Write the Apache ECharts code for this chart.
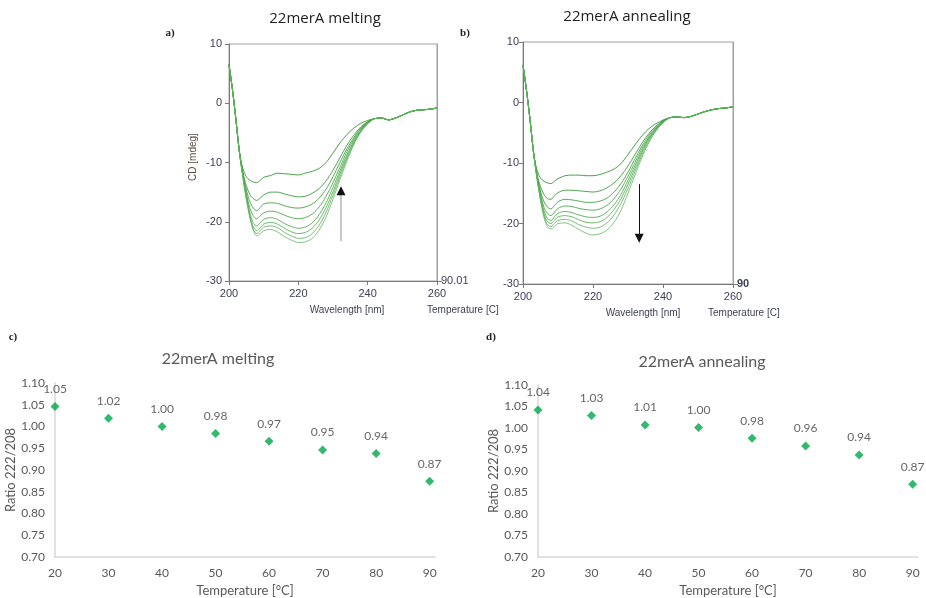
<!DOCTYPE html>
<html><head><meta charset="utf-8">
<script src="https://cdn.jsdelivr.net/npm/echarts@6/dist/echarts.min.js"></script>
<style>html,body{margin:0;padding:0;background:#fff}#c{width:926px;height:598px}</style>
</head><body><div id="c"></div><script>
// ---- wavelengths (nm) ----
const headWl = [200, 201, 202, 203];
const midWl = [204, 205, 206, 207, 208, 209, 210, 212, 214, 216, 218, 220, 222, 224, 226, 228, 230, 232, 234, 236, 238, 240];
const tailWl = [242, 244, 246, 248, 250, 252, 254, 256, 258, 260];

// ---- panel a: melting spectra (CD, mdeg) ----
const meltHead = [6.5, 2.3, -2.8, -8.2];
const meltTail = [-2.6, -2.5, -2.8, -2.5, -2.0, -1.5, -1.2, -1.1, -1.0, -0.8];
const melt1 = [-11.0, -12.4, -13.0, -13.3, -13.4, -13.0, -12.5, -12.2, -11.8, -11.9, -12.0, -12.1, -11.8, -11.5, -11.0, -10.0, -8.4, -6.7, -5.3, -4.2, -3.4, -2.9];
const melt2 = [-11.6, -13.9, -15.4, -16.1, -16.4, -16.0, -15.5, -15.0, -15.0, -15.3, -15.6, -15.8, -15.7, -15.2, -14.4, -13.1, -11.3, -9.2, -7.1, -5.4, -4.0, -3.1];
const melt3 = [-11.9, -14.6, -16.6, -17.7, -18.1, -17.6, -17.0, -16.8, -16.9, -17.3, -17.6, -17.7, -17.5, -17.0, -16.0, -14.5, -12.4, -10.0, -7.7, -5.8, -4.2, -3.2];
const melt4 = [-12.1, -15.2, -17.6, -19.0, -19.5, -19.0, -18.5, -18.2, -18.4, -18.9, -19.3, -19.5, -19.3, -18.7, -17.5, -15.7, -13.4, -10.8, -8.2, -6.1, -4.4, -3.3];
const melt5 = [-12.2, -15.6, -18.4, -20.2, -20.7, -20.2, -19.6, -19.3, -19.6, -20.3, -20.8, -21.1, -20.9, -20.2, -18.8, -16.8, -14.2, -11.4, -8.7, -6.4, -4.6, -3.3];
const melt6 = [-12.3, -15.9, -18.9, -20.9, -21.5, -21.0, -20.4, -20.1, -20.4, -21.1, -21.7, -22.0, -21.8, -21.1, -19.7, -17.6, -14.9, -11.9, -9.1, -6.6, -4.7, -3.4];
const melt7 = [-12.4, -16.1, -19.1, -21.3, -22.0, -21.5, -20.9, -20.7, -21.0, -21.8, -22.4, -22.8, -22.7, -22.0, -20.6, -18.4, -15.5, -12.4, -9.4, -6.8, -4.8, -3.4];
const melt8 = [-12.5, -16.2, -19.2, -21.4, -22.4, -22.0, -21.5, -21.3, -21.7, -22.5, -23.1, -23.5, -23.4, -22.8, -21.4, -19.2, -16.2, -12.9, -9.8, -7.0, -4.9, -3.5];

// ---- panel b: annealing spectra (CD, mdeg) ----
const annHead = [6.2, 2.0, -2.8, -8.2];
const annTail = [-2.5, -2.4, -2.5, -2.3, -1.9, -1.5, -1.2, -1.0, -0.9, -0.7];
const ann1 = [-11.2, -12.5, -13.0, -13.3, -13.4, -13.0, -12.6, -12.1, -12.0, -12.0, -12.1, -12.1, -11.9, -11.5, -11.0, -10.1, -8.6, -7.0, -5.5, -4.3, -3.5, -2.9];
const ann2 = [-11.8, -13.9, -15.2, -15.9, -16.0, -15.4, -14.9, -14.5, -14.5, -14.6, -14.7, -14.8, -14.6, -14.1, -13.3, -12.1, -10.5, -8.6, -6.7, -5.1, -3.9, -3.0];
const ann3 = [-12.0, -14.6, -16.4, -17.3, -17.6, -17.0, -16.4, -16.0, -16.1, -16.3, -16.5, -16.5, -16.3, -15.8, -14.8, -13.4, -11.5, -9.3, -7.2, -5.4, -4.1, -3.1];
const ann4 = [-12.2, -15.1, -17.3, -18.4, -18.7, -18.1, -17.5, -17.1, -17.2, -17.5, -17.7, -17.8, -17.6, -17.0, -15.9, -14.3, -12.2, -9.9, -7.6, -5.7, -4.2, -3.1];
const ann5 = [-12.3, -15.5, -17.9, -19.2, -19.5, -18.9, -18.3, -18.0, -18.2, -18.6, -18.9, -19.0, -18.8, -18.1, -16.9, -15.2, -12.9, -10.4, -8.0, -5.9, -4.4, -3.2];
const ann6 = [-12.4, -15.8, -18.4, -19.7, -20.0, -19.5, -18.9, -18.7, -18.9, -19.4, -19.8, -19.9, -19.7, -19.0, -17.7, -15.9, -13.5, -10.9, -8.3, -6.1, -4.5, -3.3];
const ann7 = [-12.5, -16.0, -18.7, -20.2, -20.5, -20.0, -19.5, -19.3, -19.6, -20.2, -20.6, -20.8, -20.6, -19.9, -18.6, -16.7, -14.2, -11.4, -8.7, -6.4, -4.6, -3.3];
const ann8 = [-12.6, -16.2, -19.0, -20.6, -20.9, -20.5, -20.0, -19.9, -20.3, -21.0, -21.6, -21.9, -21.7, -21.1, -19.8, -17.8, -15.0, -12.0, -9.1, -6.6, -4.7, -3.4];

// ---- arrows (wavelength, from CD, to CD) ----
const arrowMelt = [232.3, -23.3, -14.0];
const arrowAnneal = [233.2, -13.5, -23.2];

// ---- panels c, d: ratio 222/208 vs temperature ----
const tempC = [20, 30, 40, 50, 60, 70, 80, 90];
const ratioMelt = [1.046, 1.019, 1.000, 0.984, 0.966, 0.946, 0.938, 0.874];
const ratioAnneal = [1.042, 1.029, 1.007, 1.001, 0.976, 0.958, 0.937, 0.869];

// ---- right-axis (temperature) labels ----
const tempAxisLabelA = '90.01';
const tempAxisLabelB = '90';

const wl = headWl.concat(midWl, tailWl);
function spectrum(head, mid, tail) {
  const v = head.concat(mid, tail);
  return wl.map((w, i) => [w, v[i]]);
}
const greens = ['#1f8a1f', '#289028', '#319731', '#3a9e3a', '#44a444', '#4eaa4e', '#58b058', '#62b662'];
const meltSets = [melt1, melt2, melt3, melt4, melt5, melt6, melt7, melt8];
const annSets = [ann1, ann2, ann3, ann4, ann5, ann6, ann7, ann8];

const axisCol = '#7a7a7a';
const tickTxt = '#3d3d55';
const sansCD = 'Liberation Sans';

function cdX(gi) {
  return {
    gridIndex: gi, type: 'value', min: 200, max: 260, interval: 20,
    axisLine: { show: true, onZero: false, lineStyle: { color: axisCol } },
    axisTick: { show: true, length: 4, lineStyle: { color: axisCol } },
    axisLabel: { color: tickTxt, fontFamily: sansCD, fontSize: 11, margin: 7 },
    splitLine: { show: false }
  };
}
function cdY(gi, margin) {
  return {
    gridIndex: gi, type: 'value', min: -30, max: 10, interval: 10,
    axisLine: { show: true, onZero: false, lineStyle: { color: axisCol } },
    axisTick: { show: true, length: 4, lineStyle: { color: axisCol } },
    axisLabel: { color: tickTxt, fontFamily: sansCD, fontSize: 11, margin: margin },
    splitLine: { show: false }
  };
}
function tempY(gi, lab) {
  return {
    gridIndex: gi, type: 'value', position: 'right', min: 0, max: 1, interval: 1,
    axisLine: { show: true, onZero: false, lineStyle: { color: '#a0a0a0' } },
    axisTick: { show: true, length: 5, customValues: [0], lineStyle: { color: axisCol } },
    axisLabel: { color: tickTxt, fontFamily: sansCD, fontSize: 11, fontWeight: lab === '90' ? 'bold' : 'normal', margin: 4,
      formatter: v => (v === 0 ? lab : '') },
    splitLine: { show: false }
  };
}
function ratioX(gi) {
  return {
    gridIndex: gi, type: 'value', min: 20, max: 91, interval: 10,
    axisLine: { show: true, onZero: false, lineStyle: { color: '#d9d9d9', width: 1.5 } },
    axisTick: { show: false },
    axisLabel: { showMaxLabel: false, color: '#595959', fontFamily: 'Lato', fontSize: 12, margin: 10 },
    splitLine: { show: false },
    name: 'Temperature [°C]', nameLocation: 'middle', nameGap: 27,
    nameTextStyle: { color: '#595959', fontFamily: 'Lato', fontSize: 13 }
  };
}
function ratioY(gi) {
  return {
    gridIndex: gi, type: 'value', min: 0.7, max: 1.1, interval: 0.05,
    axisLine: { show: true, onZero: false, lineStyle: { color: '#d9d9d9', width: 1.5 } },
    axisTick: { show: false },
    axisLabel: { color: '#595959', fontFamily: 'Lato', fontSize: 12, margin: 10, formatter: v => v.toFixed(2) },
    splitLine: { show: false },
    name: 'Ratio 222/208', nameLocation: 'middle', nameGap: 35, nameRotate: 90,
    nameTextStyle: { color: '#595959', fontFamily: 'Lato', fontSize: 13 }
  };
}

const series = [];
meltSets.forEach((m, i) => {
  const s = {
    type: 'line', xAxisIndex: 0, yAxisIndex: 0, data: spectrum(meltHead, m, meltTail),
    showSymbol: false, smooth: 0.3, silent: true,
    lineStyle: { color: greens[i], width: 1, opacity: 0.8 }
  };
  if (i === 0) {
    s.markLine = { silent: true, symbol: ['none', 'none'], label: { show: false }, animation: false,
      lineStyle: { color: '#b4b4b4', width: 1.5, type: 'solid' },
      data: [[{ coord: [arrowMelt[0], arrowMelt[1]] }, { coord: [arrowMelt[0], arrowMelt[2] - 1.0] }]] };
  }
  if (i === 1) {
    s.markLine = { silent: true, symbol: ['none', 'triangle'], symbolSize: 9, label: { show: false }, animation: false,
      lineStyle: { color: '#111', width: 1, type: 'solid' },
      data: [[{ coord: [arrowMelt[0], arrowMelt[2] - 1.4] }, { coord: [arrowMelt[0], arrowMelt[2] - 0.75] }]] };
  }
  series.push(s);
});
annSets.forEach((m, i) => {
  const s = {
    type: 'line', xAxisIndex: 1, yAxisIndex: 2, data: spectrum(annHead, m, annTail),
    showSymbol: false, smooth: 0.3, silent: true,
    lineStyle: { color: greens[i], width: 1, opacity: 0.8 }
  };
  if (i === 0) {
    s.markLine = { silent: true, symbol: ['none', 'triangle'], symbolSize: 9, label: { show: false }, animation: false,
      lineStyle: { color: '#111', width: 1, type: 'solid' },
      data: [[{ coord: [arrowAnneal[0], arrowAnneal[1]] }, { coord: [arrowAnneal[0], arrowAnneal[2] + 0.75] }]] };
  }
  series.push(s);
});
function ratioSeries(xi, yi, vals) {
  return {
    type: 'scatter', xAxisIndex: xi, yAxisIndex: yi,
    data: tempC.map((t, i) => [t, vals[i]]),
    symbol: 'diamond', symbolSize: 9, itemStyle: { color: '#00a84a' },
    label: { show: true, position: 'top', distance: 7, color: '#404040', fontFamily: 'Lato', fontSize: 12,
      formatter: p => p.value[1].toFixed(2) }
  };
}
series.push(ratioSeries(2, 4, ratioMelt));
series.push(ratioSeries(3, 5, ratioAnneal));

function txt(text, x, y, font, fill, align, rot) {
  return { type: 'text', x: x, y: y, rotation: rot || 0, silent: true,
    style: { text: text, font: font, fill: fill, textAlign: align || 'center', textVerticalAlign: 'middle' } };
}
const titleFontTop = '15px "Open Sans"';
const titleFontBot = '16px Lato';
const panelFont = 'bold 11px "Liberation Serif"';
const graphic = [
  txt('22merA melting', 325, 19, titleFontTop, '#222'),
  txt('22merA annealing', 627, 17, titleFontTop, '#222'),
  txt('a)', 170, 33, panelFont, '#222'),
  txt('b)', 465, 33, panelFont, '#222'),
  txt('c)', 13, 337, panelFont, '#222'),
  txt('d)', 491, 337, panelFont, '#222'),
  txt('CD [mdeg]', 193, 157, '10px "Liberation Sans"', '#5a4a42', 'center', Math.PI / 2),
  txt('Wavelength [nm]', 347, 310, '10px "Liberation Sans"', tickTxt),
  txt('Temperature [C]', 427, 310, '10px "Liberation Sans"', tickTxt, 'left'),
  txt('Wavelength [nm]', 643, 313, '10px "Liberation Sans"', tickTxt),
  txt('Temperature [C]', 708, 313, '10px "Liberation Sans"', tickTxt, 'left'),
  txt('22merA melting', 218, 359, titleFontBot, '#595959'),
  txt('22merA annealing', 702, 362, titleFontBot, '#595959')
];

const chart = echarts.init(document.getElementById('c'), null, { renderer: 'canvas' });
chart.setOption({
  animation: false,
  backgroundColor: '#fff',
  grid: [
    { left: 229, top: 44, width: 208, height: 237, show: true, borderColor: '#a0a0a0', borderWidth: 1, backgroundColor: 'transparent' },
    { left: 523, top: 42, width: 210, height: 242, show: true, borderColor: '#a0a0a0', borderWidth: 1, backgroundColor: 'transparent' },
    { left: 55, top: 383, width: 380, height: 174 },
    { left: 538, top: 385, width: 380, height: 172 }
  ],
  xAxis: [cdX(0), cdX(1), ratioX(2), ratioX(3)],
  yAxis: [cdY(0, 7), tempY(0, tempAxisLabelA), cdY(1, 4), tempY(1, tempAxisLabelB), ratioY(2), ratioY(3)],
  series: series,
  graphic: graphic
});
</script></body></html>
